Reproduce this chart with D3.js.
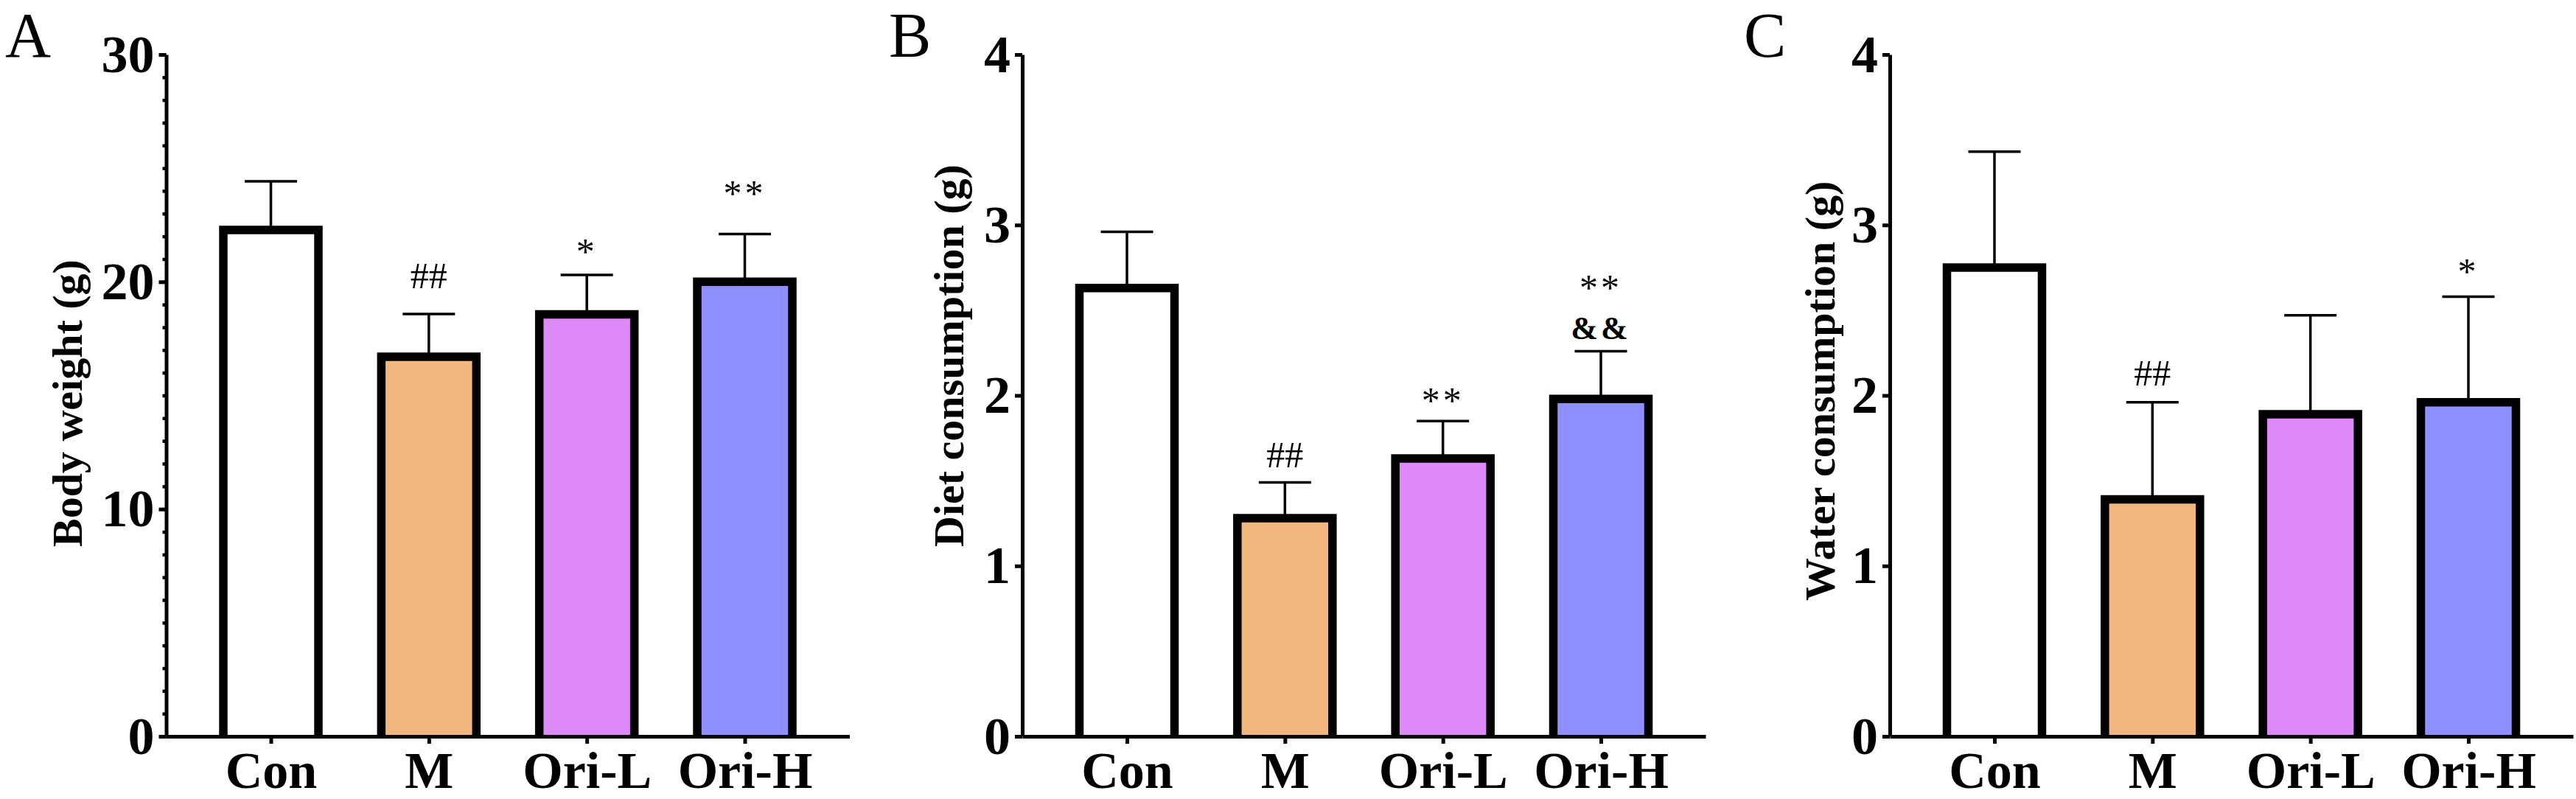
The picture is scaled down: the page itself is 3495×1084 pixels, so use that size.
<!DOCTYPE html>
<html>
<head>
<meta charset="utf-8">
<script src="https://cdn.jsdelivr.net/npm/d3@7"></script>
<style>
  body { margin: 0; background: #fff; }
  svg { display: block; }
</style>
</head>
<body>
<script>
// groups on the x axis (same for every panel)
var groups = ["Con", "M", "Ori-L", "Ori-H"];

// A: body weight (g)
var weightMean = [22.28, 16.7, 18.57, 20.0];
var weightErr = [2.14, 1.88, 1.73, 2.1];
var weightTicks = [0, 10, 20, 30];
var weightMarks = [["M", "##", 19.72], ["Ori-L", "*", 20.79], ["Ori-H", "**", 23.35]];

// B: diet consumption (g)
var dietMean = [2.63, 1.28, 1.63, 1.98];
var dietErr = [0.33, 0.21, 0.22, 0.28];
var dietTicks = [0, 1, 2, 3, 4];
var dietMarks = [["M", "##", 1.58], ["Ori-L", "**", 1.90], ["Ori-H", "&&", 2.33], ["Ori-H", "**", 2.56]];

// C: water consumption (g)
var waterMean = [2.75, 1.39, 1.89, 1.96];
var waterErr = [0.68, 0.57, 0.58, 0.62];
var waterTicks = [0, 1, 2, 3, 4];
var waterMarks = [["M", "##", 2.06], ["Ori-H", "*", 2.655]];

// bar fill colours, one per group
var fills = ["#ffffff", "#f1b77e", "#dd89f7", "#8f8fff"];

var FONT = "'Liberation Serif', 'Times New Roman', serif";
var yTop = 74, yBot = 999, axisLen = 927;
var barW = 129, barStroke = 11.5, capW = 71;

var svg = d3.select("body").append("svg").attr("width", 3495).attr("height", 1084);

/**
 * draws one bar panel with error bars and significance marks
 */
function renderPanel(cfg) {
  var g = svg.append("g");

  var x = d3.scalePoint().domain(groups).range([cfg.left, cfg.left + axisLen]).padding(0.6625);
  var y = d3.scaleLinear().domain([0, cfg.max]).range([yBot, yTop]);

  // error bars (upper only)
  groups.forEach(function (d, i) {
    var cx = x(d);
    var top = y(cfg.mean[i] + cfg.err[i]);
    g.append("line").attr("x1", cx).attr("x2", cx).attr("y1", y(cfg.mean[i])).attr("y2", top)
      .attr("stroke", "#000").attr("stroke-width", 3.5);
    g.append("line").attr("x1", cx - capW / 2).attr("x2", cx + capW / 2).attr("y1", top).attr("y2", top)
      .attr("stroke", "#000").attr("stroke-width", 3.5);
  });

  // bars, open at the bottom so they sit on the axis
  g.selectAll("path.bar").data(groups).join("path")
    .attr("class", "bar")
    .attr("d", function (d, i) {
      var x0 = x(d) - barW / 2, x1 = x(d) + barW / 2, t = y(cfg.mean[i]);
      return "M" + x0 + "," + yBot + "V" + t + "H" + x1 + "V" + yBot + "Z";
    })
    .attr("fill", function (d, i) { return fills[i]; })
    .attr("stroke", "none");
  g.selectAll("path.outline").data(groups).join("path")
    .attr("class", "outline")
    .attr("d", function (d, i) {
      var x0 = x(d) - barW / 2, x1 = x(d) + barW / 2, t = y(cfg.mean[i]);
      return "M" + x0 + "," + yBot + "V" + t + "H" + x1 + "V" + yBot;
    })
    .attr("fill", "none").attr("stroke", "#000").attr("stroke-width", barStroke)
    .attr("stroke-linejoin", "miter");

  // minor ticks
  if (cfg.minor) {
    var minor = g.append("g").attr("transform", "translate(" + cfg.left + ",0)")
      .call(d3.axisLeft(y).tickValues(cfg.minor).tickSize(5).tickFormat(""));
    minor.select(".domain").remove();
    minor.selectAll("line").attr("stroke-width", 4.5);
  }

  // y axis
  var ya = g.append("g").attr("transform", "translate(" + cfg.left + ",0)")
    .call(d3.axisLeft(y).tickValues(cfg.ticks).tickFormat(d3.format("d"))
      .tickSize(10).tickSizeOuter(0).tickPadding(6));
  ya.select(".domain").attr("stroke-width", 5);
  ya.selectAll(".tick line").attr("stroke-width", 5);
  ya.selectAll("text").attr("font-family", FONT).attr("font-weight", "bold")
    .attr("font-size", 72).attr("fill", "#000");

  // x axis
  var xa = g.append("g").attr("transform", "translate(0," + yBot + ")")
    .call(d3.axisBottom(x).tickSize(10).tickSizeOuter(0).tickPadding(10));
  xa.select(".domain").attr("stroke-width", 5);
  xa.selectAll(".tick line").attr("stroke-width", 5);
  xa.selectAll("text").attr("font-family", FONT).attr("font-weight", "bold")
    .attr("font-size", 70).attr("fill", "#000");

  // axis title
  g.append("text")
    .attr("transform", "translate(" + cfg.titleX + "," + cfg.titleY + ") rotate(-90)")
    .attr("font-family", FONT).attr("font-weight", "bold").attr("font-size", 58)
    .attr("text-anchor", "start").text(cfg.title);

  // panel letter
  g.append("text").attr("x", cfg.letterX).attr("y", 77)
    .attr("font-family", FONT).attr("font-size", 86).text(cfg.letter);

  // significance marks
  cfg.marks.forEach(function (m) {
    var amp = m[1].indexOf("&") >= 0;
    var hash = m[1].indexOf("#") >= 0;
    g.append("text").attr("x", x(m[0])).attr("y", y(m[2]))
      .attr("text-anchor", "middle").attr("font-family", FONT)
      .attr("font-weight", amp ? "bold" : "normal")
      .attr("font-size", amp ? 44 : 50)
      .attr("letter-spacing", hash ? 0 : 4)
      .text(m[1]);
  });
}

renderPanel({ left: 225.5, max: 30, mean: weightMean, err: weightErr, ticks: weightTicks,
  minor: d3.range(0, 31, 1), marks: weightMarks, title: "Body weight (g)",
  titleX: 111, titleY: 742, letter: "A", letterX: 7 });

renderPanel({ left: 1387, max: 4, mean: dietMean, err: dietErr, ticks: dietTicks,
  minor: null, marks: dietMarks, title: "Diet consumption (g)",
  titleX: 1307, titleY: 742, letter: "B", letterX: 1206 });

renderPanel({ left: 2564, max: 4, mean: waterMean, err: waterErr, ticks: waterTicks,
  minor: null, marks: waterMarks, title: "Water consumption (g)",
  titleX: 2489, titleY: 815, letter: "C", letterX: 2366 });
</script>
</body>
</html>
